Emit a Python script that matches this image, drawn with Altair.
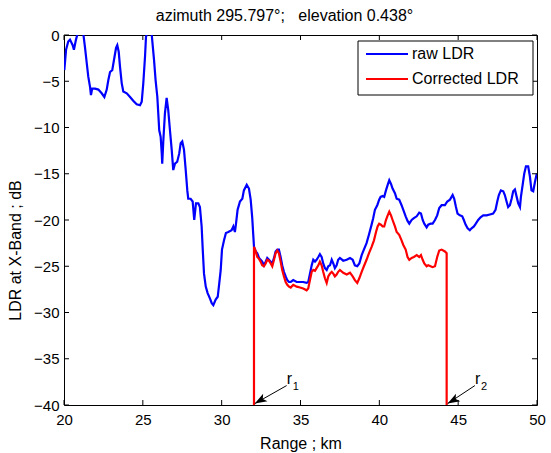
import altair as alt
import pandas as pd

# Raw LDR trace (range km, LDR dB)
raw_ldr_trace = [
    (20.02, -3.8), (20.13, -1.6), (20.27, -0.7), (20.38, -0.5), (20.55, -1.1), (20.63, -1.6),
    (20.76, -0.5), (20.84, 0.0), (21.05, 1.0), (21.22, 0.2), (21.33, -1.3), (21.44, -3.0),
    (21.54, -4.5), (21.65, -5.6), (21.71, -6.5), (21.79, -5.8), (21.97, -5.8), (22.18, -5.9),
    (22.39, -6.3), (22.56, -6.7), (22.71, -5.9), (22.81, -4.9), (22.92, -4.0), (23.06, -3.8),
    (23.17, -2.7), (23.30, -1.4), (23.38, -1.1), (23.47, -1.8), (23.55, -3.4), (23.66, -5.2),
    (23.76, -6.1), (23.98, -6.3), (24.19, -6.7), (24.39, -7.1), (24.61, -7.5), (24.82, -7.6),
    (24.93, -7.2), (25.03, -5.2), (25.14, -2.3), (25.20, -0.2), (25.39, 0.8), (25.56, 0.1),
    (25.71, -2.7), (25.81, -4.9), (25.92, -6.7), (25.98, -8.5), (26.04, -10.3), (26.13, -11.0),
    (26.20, -12.8), (26.23, -13.9), (26.30, -11.4), (26.40, -8.5), (26.51, -6.8), (26.61, -8.1),
    (26.72, -10.3), (26.83, -12.4), (26.93, -14.6), (27.04, -13.9), (27.18, -13.7), (27.31, -12.8),
    (27.40, -11.7), (27.50, -11.5), (27.61, -12.4), (27.72, -14.6), (27.82, -16.8), (27.88, -17.7),
    (28.03, -17.7), (28.16, -18.0), (28.26, -20.0), (28.37, -18.2), (28.52, -18.2), (28.62, -18.6),
    (28.73, -20.7), (28.80, -23.2), (28.88, -25.8), (28.99, -27.2), (29.11, -27.9), (29.26, -28.5),
    (29.37, -29.0), (29.47, -29.2), (29.62, -28.6), (29.75, -28.3), (29.85, -26.8), (29.94, -25.4),
    (30.02, -23.2), (30.15, -22.2), (30.27, -21.4), (30.42, -21.3), (30.63, -21.1), (30.74, -20.7),
    (30.84, -21.3), (30.91, -20.4), (31.01, -18.9), (31.16, -18.0), (31.31, -17.7), (31.41, -16.8),
    (31.59, -16.2), (31.73, -16.6), (31.84, -17.8), (31.94, -19.8), (32.00, -21.5), (32.05, -22.9),
    (32.16, -23.4), (32.26, -23.6), (32.37, -24.1), (32.47, -24.3), (32.57, -24.5), (32.68, -24.9),
    (32.79, -24.5), (32.89, -24.1), (33.00, -24.3), (33.11, -24.5), (33.21, -24.7), (33.32, -24.1),
    (33.42, -23.4), (33.53, -23.2), (33.63, -23.2), (33.74, -24.0), (33.84, -24.9), (33.95, -25.6),
    (34.06, -26.1), (34.16, -26.5), (34.27, -26.7), (34.38, -26.7), (34.54, -26.5), (34.76, -26.7),
    (34.97, -26.7), (35.17, -26.7), (35.39, -26.8), (35.49, -26.7), (35.60, -25.8), (35.71, -24.9),
    (35.81, -24.3), (35.92, -24.5), (36.02, -24.3), (36.13, -24.0), (36.23, -23.7), (36.34, -24.0),
    (36.44, -24.7), (36.55, -25.2), (36.66, -25.4), (36.76, -25.0), (36.87, -24.9), (36.98, -24.3),
    (37.08, -24.7), (37.18, -25.2), (37.29, -24.9), (37.39, -24.3), (37.50, -24.1), (37.71, -24.4),
    (37.93, -24.3), (38.14, -24.1), (38.31, -24.3), (38.45, -24.9), (38.60, -25.0), (38.73, -24.7),
    (38.88, -23.8), (39.02, -23.2), (39.19, -22.5), (39.34, -21.6), (39.51, -20.5), (39.61, -19.8),
    (39.72, -18.9), (39.87, -18.4), (39.99, -17.8), (40.08, -17.5), (40.21, -17.4), (40.31, -17.5),
    (40.42, -16.8), (40.53, -16.2), (40.63, -15.7), (40.74, -16.1), (40.84, -16.6), (40.99, -17.1),
    (41.10, -17.7), (41.26, -17.8), (41.41, -18.4), (41.52, -18.9), (41.67, -19.6), (41.79, -20.1),
    (41.90, -20.4), (42.05, -20.0), (42.19, -19.8), (42.37, -19.6), (42.53, -19.2), (42.64, -19.3),
    (42.75, -20.0), (42.85, -20.4), (43.00, -20.8), (43.10, -20.5), (43.25, -20.4), (43.38, -20.4),
    (43.53, -20.0), (43.67, -19.5), (43.80, -18.7), (43.95, -18.4), (44.16, -18.4), (44.31, -18.0),
    (44.48, -17.8), (44.65, -17.3), (44.75, -17.7), (44.86, -18.6), (44.96, -19.3), (45.11, -19.5),
    (45.26, -19.6), (45.36, -20.0), (45.47, -20.5), (45.60, -20.9), (45.74, -21.1), (45.85, -20.9),
    (46.00, -20.7), (46.12, -20.4), (46.27, -20.0), (46.42, -19.7), (46.59, -19.5), (46.80, -19.5),
    (47.01, -19.4), (47.22, -19.3), (47.37, -18.9), (47.48, -18.0), (47.58, -17.3), (47.71, -16.8),
    (47.86, -16.9), (47.96, -17.3), (48.07, -18.0), (48.17, -18.6), (48.28, -18.4), (48.39, -17.7),
    (48.49, -16.9), (48.60, -16.7), (48.71, -17.5), (48.81, -18.2), (48.92, -18.6), (48.98, -17.5),
    (49.09, -16.2), (49.19, -15.0), (49.30, -14.2), (49.44, -14.2), (49.55, -15.3), (49.65, -16.8),
    (49.76, -16.9), (49.87, -15.9), (49.97, -15.1), (50.00, -15.0),
]

# Corrected LDR trace between r1 and r2 (drops to the axis floor at both ends)
corrected_ldr_trace = [
    (32.05, -40.0), (32.05, -22.9), (32.16, -23.4), (32.26, -24.0), (32.37, -24.2), (32.47, -24.5),
    (32.57, -24.9), (32.68, -25.0), (32.79, -24.7), (32.89, -24.3), (33.00, -24.4), (33.11, -24.7),
    (33.21, -25.0), (33.32, -24.3), (33.42, -23.6), (33.53, -23.3), (33.63, -23.6), (33.74, -24.5),
    (33.84, -25.4), (33.95, -26.1), (34.06, -26.7), (34.16, -27.0), (34.27, -27.2), (34.38, -27.3),
    (34.54, -27.0), (34.76, -27.2), (34.97, -27.3), (35.17, -27.4), (35.39, -27.6), (35.49, -27.4),
    (35.60, -26.5), (35.71, -25.6), (35.81, -25.4), (35.92, -25.5), (36.02, -25.2), (36.13, -24.9),
    (36.23, -24.5), (36.34, -24.9), (36.44, -25.6), (36.55, -26.3), (36.66, -26.8), (36.76, -26.1),
    (36.87, -25.8), (36.98, -25.6), (37.08, -25.8), (37.18, -26.1), (37.29, -25.9), (37.39, -25.6),
    (37.50, -25.4), (37.71, -25.7), (37.93, -25.9), (38.14, -25.7), (38.31, -26.1), (38.45, -26.5),
    (38.60, -26.8), (38.73, -26.3), (38.88, -25.6), (39.02, -25.0), (39.19, -24.3), (39.34, -23.6),
    (39.51, -22.9), (39.66, -22.2), (39.79, -21.3), (39.89, -20.7), (39.99, -20.4), (40.10, -20.5),
    (40.21, -20.7), (40.31, -20.7), (40.42, -20.0), (40.53, -19.5), (40.63, -19.1), (40.74, -19.5),
    (40.84, -20.0), (40.99, -20.7), (41.10, -21.3), (41.26, -21.6), (41.41, -22.2), (41.52, -22.7),
    (41.67, -23.2), (41.79, -24.0), (41.90, -24.3), (42.05, -24.1), (42.19, -24.0), (42.37, -23.8),
    (42.53, -24.0), (42.64, -23.8), (42.75, -24.3), (42.85, -24.7), (43.00, -25.0), (43.10, -24.9),
    (43.25, -25.0), (43.38, -25.1), (43.53, -25.0), (43.67, -24.0), (43.80, -23.3), (43.95, -23.2),
    (44.16, -23.4), (44.27, -23.6), (44.27, -40.0),
]

x_ticks = [20, 25, 30, 35, 40, 45, 50]
y_ticks = [0, -5, -10, -15, -20, -25, -30, -35, -40]
series_names = ["raw LDR", "Corrected LDR"]
series_colors = ["#0000ff", "#ff0000"]

# r1 / r2 markers: arrow tail -> tip
arrow_tail_km = [34.12, 46.06]
arrow_tail_db = [-37.9, -37.9]
arrow_tip_km = [32.10, 44.33]
arrow_tip_db = [-39.85, -39.85]
arrow_subscripts = ["1", "2"]

FONT = "Liberation Sans"
W, H = 473, 370

xs = alt.Scale(domain=[20, 50], nice=False, zero=False)
ys = alt.Scale(domain=[-40, 0], nice=False, zero=False)

x_axis = alt.Axis(
    values=x_ticks, title="Range ; km", ticks=False, tickSize=0, domain=False, grid=False,
    labelFont=FONT, labelFontSize=15, labelColor="black", labelPadding=7, labelFlush=False,
    titleFont=FONT, titleFontSize=16, titleFontWeight="normal", titleColor="black", titlePadding=8,
)
y_axis = alt.Axis(
    values=y_ticks, title="LDR at X-Band ; dB", ticks=False, tickSize=0, domain=False, grid=False,
    labelFont=FONT, labelFontSize=15, labelColor="black", labelPadding=5, labelFlush=False,
    titleFont=FONT, titleFontSize=16, titleFontWeight="normal", titleColor="black", titlePadding=10,
    titleY=215,
)


def X(field):
    return alt.X(field, scale=xs, axis=x_axis)


def Y(field):
    return alt.Y(field, scale=ys, axis=y_axis)


def trace_frame(trace):
    return pd.DataFrame({
        "range": [p[0] for p in trace],
        "ldr": [p[1] for p in trace],
        "i": list(range(len(trace))),
    })


raw_df = trace_frame(raw_ldr_trace)
corr_df = trace_frame(corrected_ldr_trace)

raw_line = alt.Chart(raw_df).mark_line(clip=True, strokeWidth=2.2, color=series_colors[0]).encode(
    x=X("range:Q"), y=Y("ldr:Q"), order="i:Q")
corr_line = alt.Chart(corr_df).mark_line(clip=True, strokeWidth=2.2, color=series_colors[1]).encode(
    x=X("range:Q"), y=Y("ldr:Q"), order="i:Q")

# Inward-pointing ticks on all four sides of the box
xt = pd.DataFrame({"range": x_ticks})
yt = pd.DataFrame({"ldr": y_ticks})
tick_len = 5
bottom_ticks = alt.Chart(xt).mark_rule(color="black", strokeWidth=1).encode(
    x=X("range:Q"), y=alt.value(H), y2=alt.value(H - tick_len))
top_ticks = alt.Chart(xt).mark_rule(color="black", strokeWidth=1).encode(
    x=X("range:Q"), y=alt.value(0), y2=alt.value(tick_len))
left_ticks = alt.Chart(yt).mark_rule(color="black", strokeWidth=1).encode(
    y=Y("ldr:Q"), x=alt.value(0), x2=alt.value(tick_len))
right_ticks = alt.Chart(yt).mark_rule(color="black", strokeWidth=1).encode(
    y=Y("ldr:Q"), x=alt.value(W), x2=alt.value(W - tick_len))

# r1 / r2 arrows
arrow_df = pd.DataFrame({
    "range": arrow_tail_km, "ldr": arrow_tail_db,
    "range_tip": arrow_tip_km, "ldr_tip": arrow_tip_db,
    "sub": arrow_subscripts,
})
arrow_shafts = alt.Chart(arrow_df).mark_rule(color="black", strokeWidth=1).encode(
    x=X("range:Q"), y=Y("ldr:Q"), x2="range_tip:Q", y2="ldr_tip:Q")
arrow_heads = alt.Chart(arrow_df).mark_point(
    shape="M0,0L0.45,1.25L0,0.95L-0.45,1.25Z", filled=True, color="black",
    opacity=1, size=380, angle=240, strokeWidth=0,
).encode(x=X("range_tip:Q"), y=Y("ldr_tip:Q"))
arrow_r = alt.Chart(arrow_df).mark_text(
    text="r", font=FONT, fontSize=16, align="left", baseline="alphabetic", dx=0, dy=-2, color="black",
).encode(x=X("range:Q"), y=Y("ldr:Q"))
arrow_sub = alt.Chart(arrow_df).mark_text(
    font=FONT, fontSize=11, align="left", baseline="alphabetic", dx=6, dy=4, color="black",
).encode(x=X("range:Q"), y=Y("ldr:Q"), text="sub:N")

# Legend box in the upper right corner
one = pd.DataFrame({"k": [0]})
legend_box = alt.Chart(one).mark_rect(fill="white", stroke="black", strokeWidth=1).encode(
    x=alt.value(294), x2=alt.value(469), y=alt.value(6), y2=alt.value(60))
legend_layers = [legend_box]
for k, (name, col) in enumerate(zip(series_names, series_colors)):
    yy = 19 + 25 * k
    legend_layers.append(alt.Chart(one).mark_rule(color=col, strokeWidth=2.2).encode(
        x=alt.value(302), x2=alt.value(344), y=alt.value(yy)))
    legend_layers.append(alt.Chart(one).mark_text(
        text=name, font=FONT, fontSize=16, align="left", baseline="middle", color="black").encode(
        x=alt.value(348), y=alt.value(yy)))

# Plot title above the box
title_text = "azimuth 295.797\u00b0;\u00a0\u00a0\u00a0elevation 0.438\u00b0"
title_mark = alt.Chart(one).mark_text(
    text=title_text, font=FONT, fontSize=16, align="center", baseline="alphabetic", color="black",
).encode(x=alt.value(W / 2 - 16), y=alt.value(-14))

chart = alt.layer(
    raw_line, corr_line,
    bottom_ticks, top_ticks, left_ticks, right_ticks,
    arrow_shafts, arrow_heads, arrow_r, arrow_sub,
    *legend_layers, title_mark,
).properties(
    width=W, height=H,
    autosize=alt.AutoSizeParams(type="none"),
    padding={"left": 64, "top": 35, "right": 14, "bottom": 48},
    background="white",
).configure_view(stroke="black", strokeWidth=1)

chart.save("out.html", embed_options={"renderer": "svg", "actions": False})
